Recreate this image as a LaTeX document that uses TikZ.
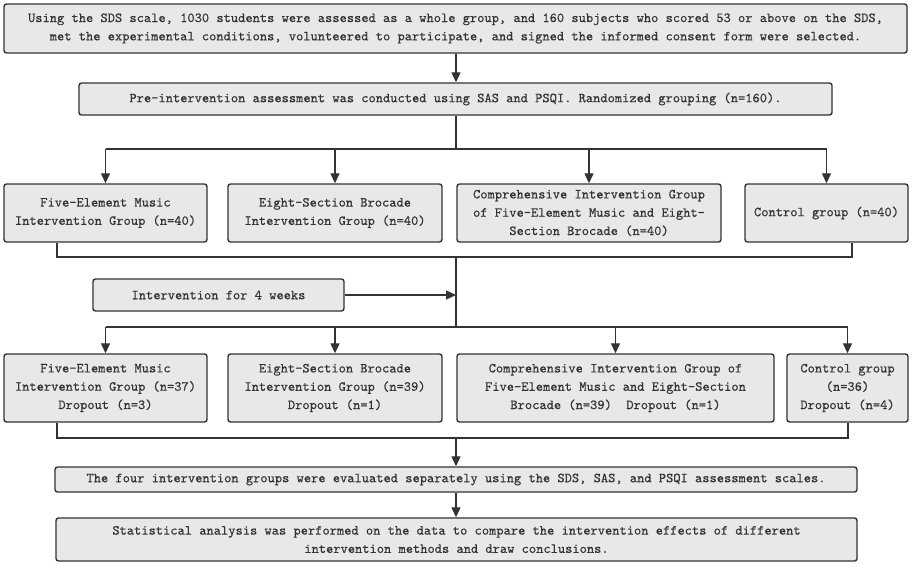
\documentclass[tikz,border=0pt]{standalone}
\usepackage{fontspec}
\usepackage{tikz}
\usetikzlibrary{arrows.meta}
\newfontfamily\boxfont{lmmono10-regular.otf}[FakeBold=0.4]
\definecolor{boxfill}{HTML}{E8E8E8}
\definecolor{boxline}{HTML}{333333}

\begin{document}
\begin{tikzpicture}[x=1pt, y=1pt,
      every node/.style = {align=center, text=boxline,
        font=\boxfont\fontsize{13.8}{18.3}\selectfont},
      stepbox/.style = {draw=boxline, fill=boxfill, line width=1.4pt,
        rounded corners=2.5pt, inner sep=0pt},
      link/.style = {draw=boxline, line width=1.3pt},
      arrow/.style = {link, -{Triangle[length=10pt, width=9pt]}}]
    \useasboundingbox (0,0) rectangle (913,-565);
    % screening and baseline
    \node[stepbox, minimum width=903, minimum height=49] (screen) at (455.5,-28.5)
      {Using the SDS scale, 1030 students were assessed as a whole group, and 160 subjects who scored 53 or above on the SDS,\\
       met the experimental conditions, volunteered to participate, and signed the informed consent form were selected.};
    \node[stepbox, minimum width=753, minimum height=32] (baseline) at (455.5,-99)
      {Pre-intervention assessment was conducted using SAS and PSQI. Randomized grouping (n=160).};
    % groups before intervention
    \node[stepbox, minimum width=203, minimum height=58] (musicA) at (105.5,-213)
      {Five-Element Music\\Intervention Group (n=40)};
    \node[stepbox, minimum width=214, minimum height=58] (brocadeA) at (335,-213)
      {Eight-Section Brocade\\Intervention Group (n=40)};
    \node[stepbox, minimum width=264, minimum height=58] (comboA) at (589,-213)
      {Comprehensive Intervention Group\\of Five-Element Music and Eight-\\Section Brocade (n=40)};
    \node[stepbox, minimum width=163, minimum height=58] (controlA) at (826.5,-213)
      {Control group (n=40)};
    \node[stepbox, minimum width=251, minimum height=32] (weeks) at (218.5,-295)
      {Intervention for 4 weeks};
    % groups after intervention
    \node[stepbox, minimum width=203, minimum height=68] (musicB) at (105.5,-388)
      {Five-Element Music\\Intervention Group (n=37)\\Dropout (n=3)};
    \node[stepbox, minimum width=214, minimum height=68] (brocadeB) at (335,-388)
      {Eight-Section Brocade\\Intervention Group (n=39)\\Dropout (n=1)};
    \node[stepbox, minimum width=317, minimum height=68] (comboB) at (615.5,-388)
      {Comprehensive Intervention Group of\\Five-Element Music and Eight-Section\\Brocade (n=39)\ \ Dropout (n=1)};
    \node[stepbox, minimum width=121, minimum height=68] (controlB) at (847.5,-388)
      {Control group\\(n=36)\\Dropout (n=4)};
    % evaluation
    \node[stepbox, minimum width=802, minimum height=25] (evaluate) at (456,-479.5)
      {The four intervention groups were evaluated separately using the SDS, SAS, and PSQI assessment scales.};
    \node[stepbox, minimum width=801, minimum height=43] (analysis) at (456.5,-539.5)
      {Statistical analysis was performed on the data to compare the intervention effects of different\\
       intervention methods and draw conclusions.};

    \coordinate (split1) at (456,-149);
    \coordinate (mergeL1) at (57,-257);
    \coordinate (mergeR1) at (852,-257);
    \coordinate (join1) at (456,-257);
    \coordinate (split2) at (456,-327);
    \coordinate (mergeL2) at (57,-438);
    \coordinate (mergeR2) at (848,-438);
    \coordinate (join2) at (456,-438);

    \draw[arrow] (screen.south -| split1) -- (baseline.north -| split1);
    \draw[link] (baseline.south -| split1) -- (split1);
    \draw[link] (musicA.north |- split1) -- (controlA.north |- split1);
    \foreach \g in {musicA, brocadeA, comboA, controlA}
      \draw[arrow] (\g.north |- split1) -- (\g.north);
    \draw[link] (musicA.south -| mergeL1) -- (mergeL1) -- (mergeR1) -- (controlA.south -| mergeR1);
    \draw[link] (join1) -- (split2);
    \draw[arrow] (weeks.east) -- (weeks.east -| join1);
    \draw[link] (musicB.north |- split2) -- (controlB.north |- split2);
    \foreach \g in {musicB, brocadeB, comboB, controlB}
      \draw[arrow] (\g.north |- split2) -- (\g.north);
    \draw[link] (musicB.south -| mergeL2) -- (mergeL2) -- (mergeR2) -- (controlB.south -| mergeR2);
    \draw[arrow] (join2) -- (evaluate.north -| join2);
    \draw[arrow] (evaluate.south -| join2) -- (analysis.north -| join2);
\end{tikzpicture}
\end{document}
